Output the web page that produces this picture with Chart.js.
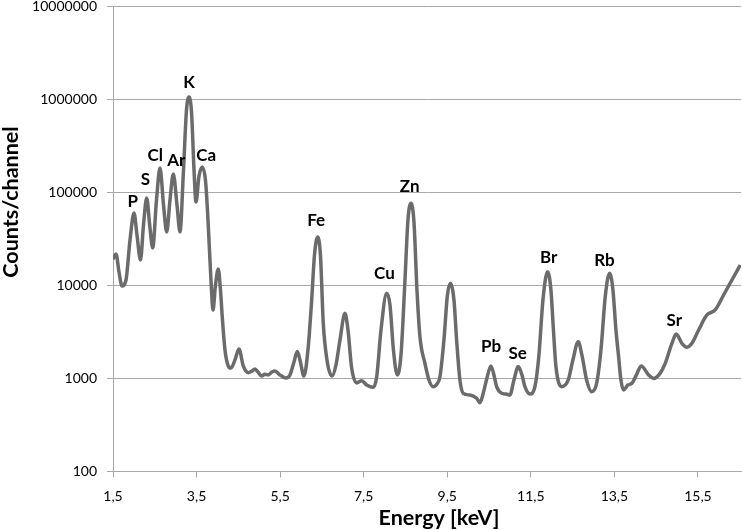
<!DOCTYPE html>
<html>
<head>
<meta charset="utf-8">
<script src="https://cdn.jsdelivr.net/npm/chart.js@4.4.0/dist/chart.umd.min.js"></script>
<style>
  html, body { margin: 0; padding: 0; background: #fff; }
  canvas { display: block; }
</style>
</head>
<body>
<canvas id="spectrum" width="742" height="530"></canvas>
<script>
// spectrum: energy in keV, counts per channel
var energy = [1.50,1.572,1.644,1.715,1.811,1.907,2.003,2.074,2.158,2.230,2.306,2.378,2.450,2.541,2.625,2.709,2.785,2.864,2.943,3.032,
  3.103,3.187,3.259,3.319,3.379,3.439,3.486,3.558,3.637,3.713,3.761,3.809,3.857,3.893,3.953,4.020,4.072,4.120,4.180,4.259,
  4.324,4.419,4.515,4.618,4.738,4.826,4.898,4.970,5.058,5.137,5.216,5.305,5.376,5.496,5.640,5.735,5.831,5.910,5.975,6.070,
  6.166,6.255,6.322,6.398,6.465,6.532,6.621,6.741,6.836,6.932,7.052,7.124,7.212,7.332,7.452,7.571,7.729,7.811,7.914,8.049,
  8.129,8.212,8.303,8.392,8.488,8.559,8.631,8.703,8.775,8.846,8.966,9.062,9.164,9.253,9.325,9.420,9.504,9.581,9.660,9.732,
  9.803,9.882,10.043,10.203,10.282,10.361,10.450,10.545,10.617,10.682,10.801,10.904,11.000,11.096,11.199,11.288,11.359,11.479,11.598,11.694,
  11.790,11.902,11.981,12.041,12.101,12.237,12.395,12.507,12.634,12.723,12.835,12.955,13.075,13.178,13.285,13.386,13.465,13.537,13.601,13.656,
  13.721,13.823,13.919,14.027,14.142,14.319,14.439,14.597,14.716,14.877,14.980,15.116,15.236,15.355,15.516,15.714,15.913,16.114,16.313,16.511];
var counts = [19100,21700,13900,9820,11400,30600,59800,34700,18700,44500,86700,44500,25200,82400,182000,72900,37400,82400,157000,72900,
  37400,173000,764000,1052000,726000,173000,78500,149000,187000,135000,64400,23900,8910,5430,10100,15000,8910,4240,2020,1360,
  1290,1580,2070,1360,1150,1200,1260,1170,1060,1110,1090,1170,1200,1090,1010,1090,1500,1940,1580,1060,
  2020,6950,21100,33000,21100,3940,1580,1060,1390,2580,5000,3310,1290,894,945,849,802,1040,3310,8210,
  6140,2020,1090,1780,11400,50200,76000,47900,8910,2810,1450,962,815,871,1040,2580,7870,10500,6950,2290,
  962,692,663,611,548,692,1010,1360,1090,815,692,679,663,962,1340,1090,815,679,815,1780,
  6950,14000,8910,3310,1340,815,962,1580,2480,1780,962,720,885,2020,7870,13500,8910,3310,1710,962,
  750,849,885,1090,1360,1090,1000,1140,1450,2380,3000,2380,2160,2380,3310,4800,5430,7870,11400,16500];

var xTicks = [1.5, 3.5, 5.5, 7.5, 9.5, 11.5, 13.5, 15.5];
var yTicks = [100, 1000, 10000, 100000, 1000000, 10000000];

// element labels, placed at (energy, counts) of the text centre
var peakNames  = ['P', 'S', 'Cl', 'Ar', 'K', 'Ca', 'Fe', 'Cu', 'Zn', 'Pb', 'Se', 'Br', 'Rb', 'Sr'];
var peakEnergy = [1.974, 2.273, 2.512, 3.015, 3.323, 3.733, 6.362, 7.997, 8.600, 10.550, 11.187, 11.926, 13.261, 14.932];
var peakCounts = [81100, 140000, 255000, 222000, 1540000, 253000, 50900, 13600, 117000, 2250, 1910, 20300, 19100, 4300];

var gridGrey = '#a8a8a8';

var textPlugin = {
  id: 'spectrumText',
  afterDatasetsDraw: function(chart) {
    var ctx = chart.ctx;
    var xs = chart.scales.x, ys = chart.scales.y;
    var area = chart.chartArea;
    ctx.save();
    ctx.fillStyle = '#000';
    ctx.textAlign = 'center';
    ctx.textBaseline = 'middle';
    ctx.font = 'bold 17px Lato';
    for (var i = 0; i < peakNames.length; i++) {
      ctx.fillText(peakNames[i], xs.getPixelForValue(peakEnergy[i]), ys.getPixelForValue(peakCounts[i]) + 1);
    }
    // axis titles
    ctx.textBaseline = 'alphabetic';
    ctx.font = 'bold 21.5px Lato';
    ctx.fillText('Energy [keV]', (area.left + area.right) / 2 + 12, chart.height - 5);
    ctx.translate(17.5, area.top + 196);
    ctx.rotate(-Math.PI / 2);
    ctx.fillText('Counts/channel', 0, 0);
    ctx.restore();
  }
};

var points = energy.map(function(e, i) { return { x: e, y: counts[i] }; });

new Chart(document.getElementById('spectrum').getContext('2d'), {
  type: 'line',
  data: {
    datasets: [{
      data: points,
      borderColor: '#6b6b6b',
      borderWidth: 3.5,
      pointRadius: 0,
      fill: false,
      cubicInterpolationMode: 'monotone'
    }]
  },
  plugins: [textPlugin],
  options: {
    responsive: false,
    animation: false,
    layout: { padding: { left: 0, right: 1, top: 0, bottom: 0 } },
    plugins: { legend: { display: false }, tooltip: { enabled: false } },
    scales: {
      x: {
        type: 'linear',
        min: 1.5,
        max: 16.53,
        afterBuildTicks: function(scale) {
          scale.ticks = xTicks.map(function(v) { return { value: v }; });
        },
        afterFit: function(scale) {
          scale.height = 58.5;
          scale.paddingLeft = 0;
          scale.paddingRight = 0;
        },
        ticks: {
          autoSkip: false,
          maxRotation: 0,
          padding: 11,
          color: '#000',
          font: { family: 'Lato', size: 14 },
          callback: function(v) { return String(v).replace('.', ','); }
        },
        grid: { drawOnChartArea: false, tickLength: 6, color: gridGrey },
        border: { color: gridGrey }
      },
      y: {
        type: 'logarithmic',
        min: 100,
        max: 10000000,
        afterBuildTicks: function(scale) {
          scale.ticks = yTicks.map(function(v) { return { value: v }; });
        },
        afterFit: function(scale) {
          scale.width = 113;
          scale.paddingTop = 6;
          scale.paddingBottom = 0;
        },
        ticks: {
          padding: 10,
          color: '#000',
          font: { family: 'Lato', size: 14 },
          callback: function(v) { return String(v); }
        },
        grid: { tickLength: 6, color: gridGrey },
        border: { color: gridGrey }
      }
    }
  }
});
</script>
</body>
</html>
